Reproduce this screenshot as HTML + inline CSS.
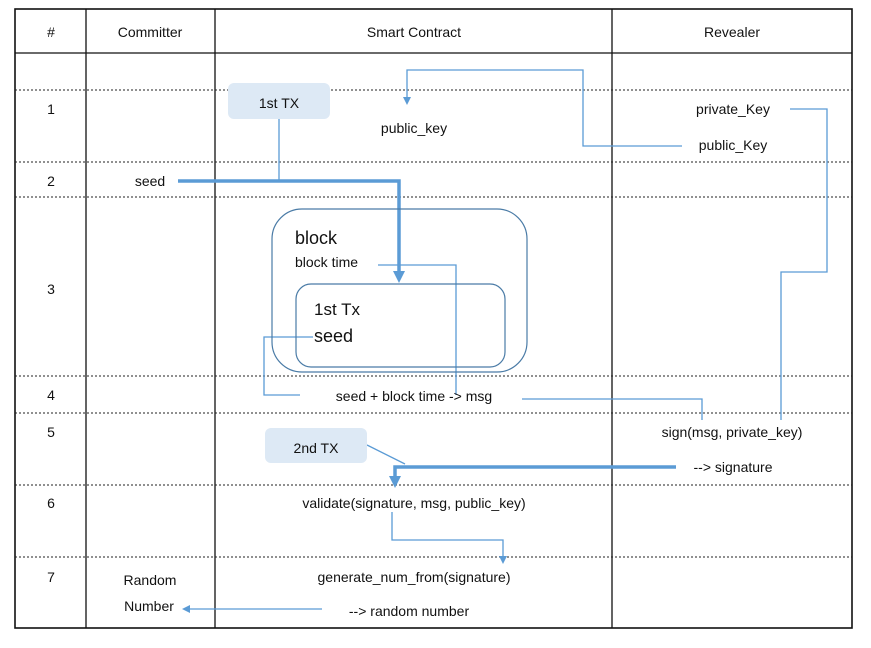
<!DOCTYPE html>
<html><head><meta charset="utf-8"><style>
body{margin:0;background:#fff;width:871px;height:643px;overflow:hidden}
text{font-family:"Liberation Sans",sans-serif;font-size:14px;fill:#111}
</style></head><body>
<svg width="871" height="643" viewBox="0 0 871 643">
<defs>
<marker id="a" markerWidth="8" markerHeight="8" refX="4" refY="4" orient="auto" markerUnits="userSpaceOnUse"><path d="M0,0 L8,4 L0,8z" fill="#5b9bd5"/></marker>
<marker id="b" markerWidth="12" markerHeight="12" refX="6" refY="6" orient="auto" markerUnits="userSpaceOnUse"><path d="M0,0 L12,6 L0,12z" fill="#5b9bd5"/></marker>
</defs>
<rect x="15" y="9" width="837" height="619" fill="none" stroke="#111" stroke-width="1.6"/>
<line x1="15" y1="53" x2="852" y2="53" stroke="#111" stroke-width="1.3"/>
<g stroke="#111" stroke-width="1.3">
<line x1="86" y1="9" x2="86" y2="628"/><line x1="215" y1="9" x2="215" y2="628"/><line x1="612" y1="9" x2="612" y2="628"/>
</g>
<g stroke="#222" stroke-width="1.1" stroke-dasharray="2,2">
<line x1="15" y1="90" x2="852" y2="90"/><line x1="15" y1="162" x2="852" y2="162"/>
<line x1="15" y1="197" x2="852" y2="197"/><line x1="15" y1="376" x2="852" y2="376"/>
<line x1="15" y1="413" x2="852" y2="413"/><line x1="15" y1="485" x2="852" y2="485"/>
<line x1="15" y1="557" x2="852" y2="557"/>
</g>
<g text-anchor="middle">
<text x="51" y="37">#</text><text x="150" y="37">Committer</text><text x="414" y="37">Smart Contract</text><text x="732" y="37">Revealer</text>
<text x="51" y="114">1</text><text x="51" y="186">2</text><text x="51" y="294">3</text><text x="51" y="400">4</text>
<text x="51" y="437">5</text><text x="51" y="508">6</text><text x="51" y="582">7</text>
</g>
<g fill="none" stroke="#5b9bd5" stroke-width="1.3">
<polyline points="682,146 583,146 583,70 407,70 407,101" marker-end="url(#a)"/>
<polyline points="790,109 827,109 827,272 781,272 781,420"/>
<line x1="279" y1="119" x2="279" y2="181"/>
<polyline points="313,337 264,337 264,395 300,395"/>
<polyline points="378,265 456,265 456,395"/>
<polyline points="522,399 702,399 702,420"/>
<line x1="367" y1="445" x2="405" y2="464"/>
<polyline points="392,512 392,540 503,540 503,560" marker-end="url(#a)"/>
<line x1="322" y1="609" x2="186" y2="609" marker-end="url(#a)"/>
</g>
<g fill="none" stroke="#5b9bd5" stroke-width="3.5">
<polyline points="178,181 399,181 399,277" marker-end="url(#b)"/>
<polyline points="676,467 395,467 395,482" marker-end="url(#b)"/>
</g>
<rect x="228" y="83" width="102" height="36" rx="6" fill="#dde9f5"/>
<rect x="265" y="428" width="102" height="35" rx="6" fill="#dde9f5"/>
<rect x="272" y="209" width="255" height="163" rx="30" fill="none" stroke="#4a7ba6" stroke-width="1.2"/>
<rect x="296" y="284" width="209" height="83" rx="15" fill="none" stroke="#4a7ba6" stroke-width="1.2"/>
<g text-anchor="middle">
<text x="279" y="108">1st TX</text><text x="316" y="453">2nd TX</text>
<text x="414" y="133">public_key</text>
<text x="414" y="401">seed + block time -&gt; msg</text>
<text x="414" y="508">validate(signature, msg, public_key)</text>
<text x="414" y="582">generate_num_from(signature)</text>
<text x="409" y="616">--&gt; random number</text>
<text x="150" y="585">Random</text><text x="149" y="611">Number</text>
<text x="150" y="186">seed</text>
<text x="733" y="114">private_Key</text><text x="733" y="150">public_Key</text>
<text x="732" y="437">sign(msg, private_key)</text><text x="733" y="472">--&gt; signature</text>
</g>
<text x="295" y="244" style="font-size:18px">block</text>
<text x="295" y="267" style="font-size:14px">block time</text>
<text x="314" y="315" style="font-size:17px">1st Tx</text>
<text x="314" y="342" style="font-size:18px">seed</text>
</svg>
</body></html>
